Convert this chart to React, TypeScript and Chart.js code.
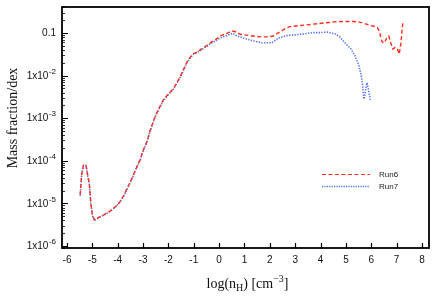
import React, { useEffect, useRef } from "react";
import { Chart, registerables } from "chart.js";

Chart.register(...registerables);

// ---- Data ----
const run6X = [
  -5.48, -5.42, -5.35, -5.25, -5.18, -5.12, -5.06, -5.0, -4.92, -4.8, -4.69, -4.55, -4.43, -4.3, -4.17,
  -4.04, -3.91, -3.77, -3.64, -3.5, -3.38, -3.25, -3.12, -2.99, -2.85, -2.72, -2.6, -2.5, -2.35, -2.2,
  -2.0, -1.8, -1.67, -1.54, -1.4, -1.27, -1.14, -1.01, -0.9, -0.75, -0.55, -0.36, -0.15, 0.04, 0.25,
  0.5, 0.65, 0.83, 1.2, 1.62, 1.9, 2.14, 2.3, 2.41, 2.6, 2.8, 3.1, 3.46, 3.9, 4.25, 4.51, 4.9, 5.3,
  5.5, 5.69, 5.95, 6.15, 6.25, 6.32, 6.42, 6.51, 6.61, 6.69, 6.77, 6.85, 6.94, 7.03, 7.1, 7.17, 7.22, 7.25,
];
const run6Y = [
  1.6e-5, 5.0e-5, 7.9e-5, 7.9e-5, 4.5e-5, 3.0e-5, 1.0e-5, 5.4e-6, 4.1e-6, 4.5e-6, 4.9e-6, 5.4e-6, 5.9e-6, 6.6e-6, 7.6e-6,
  8.9e-6, 1.1e-5, 1.5e-5, 2.2e-5, 3.2e-5, 4.7e-5, 7.1e-5, 1.05e-4, 1.8e-4, 2.8e-4, 5.2e-4, 8.3e-4, 1.2e-3, 1.8e-3, 2.7e-3,
  3.7e-3, 5.0e-3, 6.8e-3, 9.3e-3, 1.4e-2, 2.1e-2, 2.7e-2, 3.3e-2, 3.5e-2, 4.0e-2, 4.8e-2, 5.8e-2, 6.9e-2, 8.5e-2, 9.5e-2,
  0.112, 0.107, 0.093, 0.087, 0.081, 0.081, 0.085, 0.098, 0.107, 0.126, 0.141, 0.148, 0.155, 0.166, 0.174, 0.182, 0.186, 0.186,
  0.182, 0.17, 0.151, 0.141, 0.132, 0.107, 0.063, 0.058, 0.076, 0.085, 0.058, 0.042, 0.046, 0.042, 0.032, 0.058, 0.129, 0.186,
];

const run7X = [
  -5.48, -5.42, -5.35, -5.25, -5.18, -5.12, -5.06, -5.0, -4.92, -4.8, -4.69, -4.55, -4.43, -4.3, -4.17,
  -4.04, -3.91, -3.77, -3.64, -3.5, -3.38, -3.25, -3.12, -2.99, -2.85, -2.72, -2.6, -2.5, -2.35, -2.2,
  -2.0, -1.8, -1.67, -1.54, -1.4, -1.27, -1.14, -1.01, -0.9, -0.75, -0.55, -0.36, -0.15, 0.04, 0.25,
  0.54, 0.7, 0.96, 1.35, 1.68, 2.08, 2.34, 2.67, 3.2, 3.72, 4.0, 4.25, 4.58, 4.77, 4.97, 5.2, 5.36,
  5.5, 5.59, 5.64, 5.67, 5.71, 5.76, 5.83, 5.89, 5.96,
];
const run7Y = [
  1.5e-5, 4.8e-5, 7.7e-5, 7.7e-5, 4.3e-5, 2.9e-5, 1.0e-5, 5.2e-6, 4.0e-6, 4.4e-6, 4.8e-6, 5.3e-6, 5.8e-6, 6.5e-6, 7.5e-6,
  8.7e-6, 1.08e-5, 1.45e-5, 2.1e-5, 3.1e-5, 4.6e-5, 7.0e-5, 1.0e-4, 1.75e-4, 2.7e-4, 5.0e-4, 8.0e-4, 1.15e-3, 1.75e-3, 2.6e-3,
  3.6e-3, 4.8e-3, 6.6e-3, 9.0e-3, 1.35e-2, 2.0e-2, 2.6e-2, 3.2e-2, 3.4e-2, 3.8e-2, 4.6e-2, 5.5e-2, 6.5e-2, 7.6e-2, 8.5e-2,
  0.098, 0.085, 0.076, 0.065, 0.059, 0.059, 0.076, 0.087, 0.093, 0.102, 0.102, 0.105, 0.095, 0.079, 0.058, 0.042, 0.029,
  0.018, 0.011, 0.0072, 0.0046, 0.0028, 0.004, 0.0068, 0.0046, 0.0027,
];

const xTicks = [-6, -5, -4, -3, -2, -1, 0, 1, 2, 3, 4, 5, 6, 7, 8];
const yTicks = [1e-6, 1e-5, 1e-4, 1e-3, 1e-2, 0.1];
// [base, exponent] for each y tick label
const yTickBases = ["1x10", "1x10", "1x10", "1x10", "1x10", "0.1"];
const yTickExps = ["-6", "-5", "-4", "-3", "-2", ""];
const seriesNames = ["Run6", "Run7"];

const RED = "rgb(255,45,25)";
const BLUE = "rgb(80,110,240)";
const SANS = '"Liberation Sans", Arial, sans-serif';
const SERIF = '"Liberation Serif", "DejaVu Serif", serif';

const framePlugin = {
  id: "frame",
  afterDraw(chart: any) {
    const ctx = chart.ctx;
    const { left, right, top, bottom } = chart.chartArea;
    const xs = chart.scales.x;
    const ys = chart.scales.y;
    ctx.save();
    ctx.strokeStyle = "#000";
    // ticks
    ctx.lineWidth = 1.2;
    ctx.beginPath();
    xTicks.forEach((v) => {
      const px = Math.round(xs.getPixelForValue(v)) + 0.5;
      ctx.moveTo(px, bottom);
      ctx.lineTo(px, bottom - 5);
    });
    yTicks.forEach((v) => {
      const py = Math.round(ys.getPixelForValue(v)) + 0.5;
      ctx.moveTo(left, py);
      ctx.lineTo(left + 6, py);
    });
    ctx.stroke();
    ctx.lineWidth = 0.8;
    ctx.beginPath();
    for (let e = -7; e <= 0; e++) {
      for (let m = 2; m <= 9; m++) {
        const v = m * Math.pow(10, e);
        if (v < ys.min || v > ys.max) continue;
        const py = Math.round(ys.getPixelForValue(v)) + 0.5;
        ctx.moveTo(left, py);
        ctx.lineTo(left + 3, py);
      }
    }
    ctx.stroke();
    // frame
    ctx.lineWidth = 1.8;
    ctx.strokeRect(left, top, right - left, bottom - top);

    // y tick labels with superscript exponents
    ctx.fillStyle = "#111";
    ctx.textAlign = "right";
    ctx.textBaseline = "middle";
    yTicks.forEach((v, i) => {
      const py = ys.getPixelForValue(v);
      let xr = left - 6;
      if (yTickExps[i]) {
        ctx.font = `8px ${SANS}`;
        const w = ctx.measureText(yTickExps[i]).width;
        ctx.fillText(yTickExps[i], xr, py - 4);
        xr -= w + 0.5;
      }
      ctx.font = `10px ${SANS}`;
      ctx.fillText(yTickBases[i], xr, py + 0.5);
    });

    // legend
    const lx0 = 322, lx1 = 370;
    const ly = [174, 186];
    const styles = [
      { c: RED, d: [4, 2.5], w: 1.1 },
      { c: BLUE, d: [1.2, 1.2], w: 1.3 },
    ];
    chart.data.datasets.forEach((ds: any, i: number) => {
      ctx.strokeStyle = styles[i].c;
      ctx.lineWidth = styles[i].w;
      ctx.setLineDash(styles[i].d);
      ctx.beginPath();
      ctx.moveTo(lx0, ly[i] + 0.5);
      ctx.lineTo(lx1, ly[i] + 0.5);
      ctx.stroke();
      ctx.setLineDash([]);
      ctx.fillStyle = "#222";
      ctx.font = `8px ${SANS}`;
      ctx.textBaseline = "middle";
      ctx.textAlign = "left";
      ctx.fillText(ds.label, 379, ly[i] + 0.5);
    });

    // axis titles
    ctx.fillStyle = "#111";
    ctx.font = `14px ${SERIF}`;
    ctx.textBaseline = "alphabetic";
    ctx.save();
    ctx.translate(17, 118);
    ctx.rotate(-Math.PI / 2);
    ctx.textAlign = "center";
    ctx.fillText("Mass fraction/dex", 0, 0);
    ctx.restore();
    const parts = [
      { t: "log(n", f: 14, dy: 0 },
      { t: "H", f: 10, dy: 3 },
      { t: ") [cm", f: 14, dy: 0 },
      { t: "\u22123", f: 10, dy: -6 },
      { t: "]", f: 14, dy: 0 },
    ];
    let total = 0;
    parts.forEach((p) => {
      ctx.font = `${p.f}px ${SERIF}`;
      total += ctx.measureText(p.t).width;
    });
    let cx = 247.5 - total / 2;
    ctx.textAlign = "left";
    parts.forEach((p) => {
      ctx.font = `${p.f}px ${SERIF}`;
      ctx.fillText(p.t, cx, 288 + p.dy);
      cx += ctx.measureText(p.t).width;
    });
    ctx.restore();
  },
};

export default function App() {
  const ref = useRef<HTMLCanvasElement | null>(null);
  useEffect(() => {
    document.body.style.margin = "0";
    const canvas = ref.current!;
    const chart = new Chart(canvas, {
      type: "line",
      data: {
        datasets: [
          {
            label: seriesNames[0],
            data: run6X.map((x, i) => ({ x, y: run6Y[i] })),
            borderColor: RED,
            borderWidth: 1.4,
            borderDash: [4, 2.5],
            pointRadius: 0,
            fill: false,
            tension: 0,
          },
          {
            label: seriesNames[1],
            data: run7X.map((x, i) => ({ x, y: run7Y[i] })),
            borderColor: BLUE,
            borderWidth: 1.6,
            borderDash: [1.3, 1.4],
            pointRadius: 0,
            fill: false,
            tension: 0,
          },
        ],
      },
      plugins: [framePlugin],
      options: {
        responsive: false,
        animation: false,
        events: [],
        layout: { padding: { top: 7, right: 7, left: 0, bottom: 0 } },
        plugins: { legend: { display: false }, tooltip: { enabled: false }, title: { display: false } },
        scales: {
          x: {
            type: "linear",
            min: -6.197,
            max: 8.276,
            grid: { display: false, drawTicks: false },
            border: { display: false },
            afterBuildTicks: (s: any) => {
              s.ticks = xTicks.map((v) => ({ value: v }));
            },
            afterFit: (s: any) => {
              s.height = 51;
            },
            ticks: {
              padding: 6,
              color: "#111",
              maxRotation: 0,
              autoSkip: false,
              font: { family: SANS, size: 10 },
              callback: (v: any) => String(v),
            },
          },
          y: {
            type: "logarithmic",
            min: 8.98e-7,
            max: 0.407,
            grid: { display: false, drawTicks: false },
            border: { display: false },
            afterBuildTicks: (s: any) => {
              s.ticks = yTicks.map((v) => ({ value: v }));
            },
            afterFit: (s: any) => {
              s.width = 62;
            },
            ticks: { display: false },
          },
        },
      },
    });
    return () => chart.destroy();
  }, []);
  return (
    <div style={{ width: 436, height: 299, background: "#fff" }}>
      <canvas ref={ref} width={436} height={299} style={{ display: "block" }} />
    </div>
  );
}
